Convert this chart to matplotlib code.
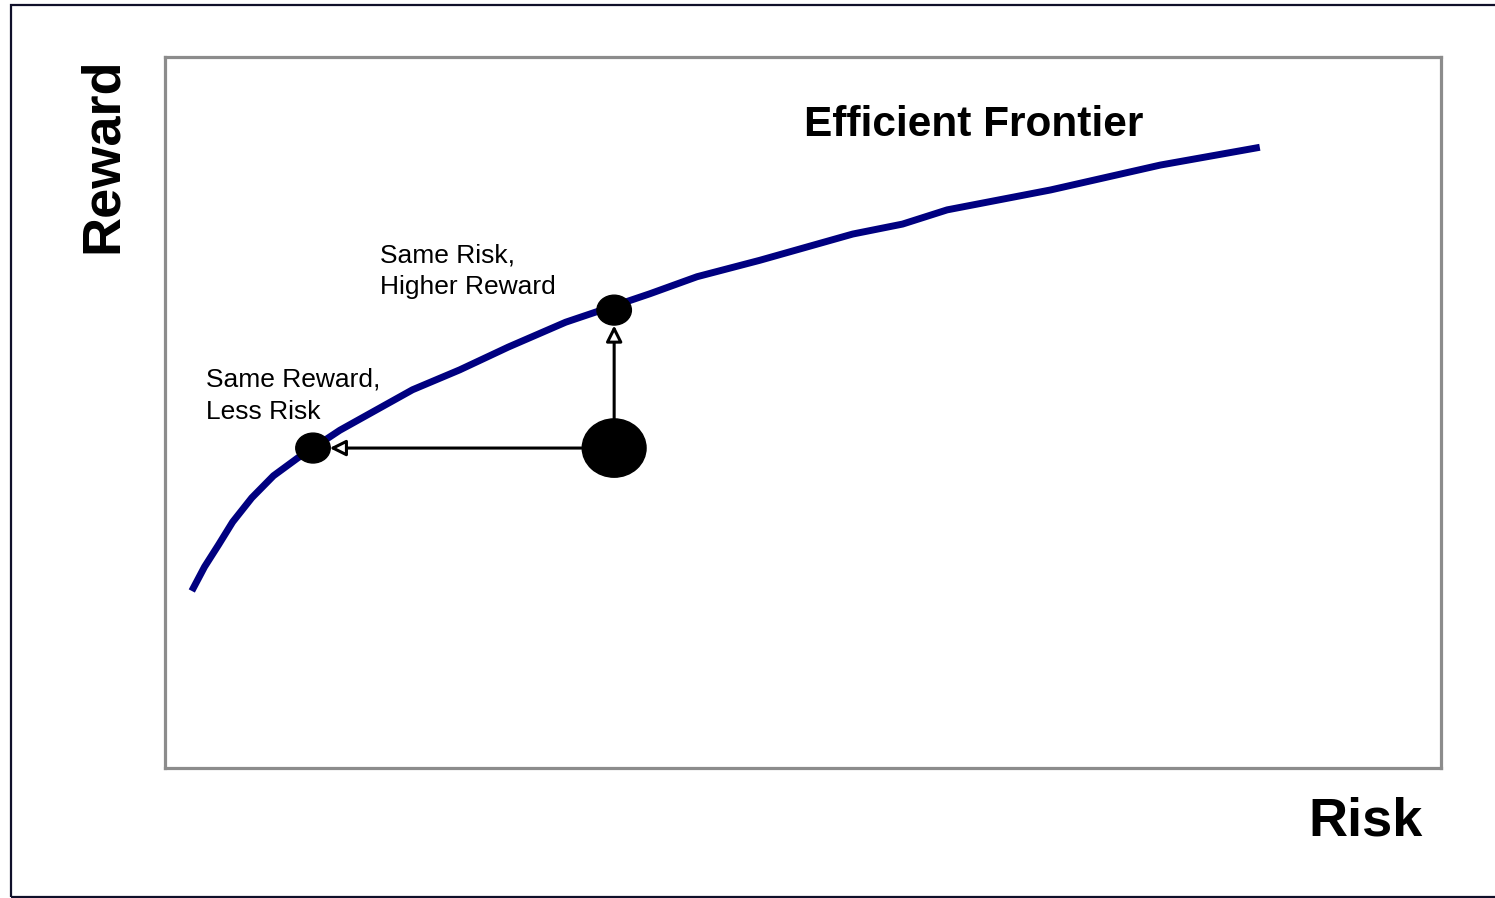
import matplotlib.pyplot as plt
from matplotlib.patches import Ellipse, Rectangle

plt.rcParams['font.family'] = ['Liberation Sans', 'DejaVu Sans']

# frontier polyline (risk, reward) on a 0-100 scale
frontier_risk = [2.1, 3.1, 4.2, 5.3, 6.8, 8.5, 10.4, 11.6, 13.7, 16.7, 19.4, 23.1,
                 26.9, 31.4, 35.2, 38.0, 41.7, 46.6, 53.9, 57.8, 61.3, 69.4, 78.0, 85.8]
frontier_reward = [24.9, 28.3, 31.4, 34.6, 38.0, 41.1, 43.6, 45.0, 47.5, 50.5, 53.2, 56.0,
                   59.2, 62.7, 65.0, 66.7, 69.1, 71.4, 75.1, 76.5, 78.5, 81.3, 84.8, 87.3]

# current portfolio and the two better choices on the frontier
portfolio = (35.2, 45.0)
less_risk = (11.6, 45.0)
higher_reward = (35.2, 64.4)

fig = plt.figure(figsize=(14.95, 8.98), dpi=100)
fig.patches.append(Rectangle((11 / 1495, 1 / 898), 1.0, 892 / 898, transform=fig.transFigure,
                             fill=False, ec='#10102a', lw=1.6))

ax = fig.add_axes([165 / 1495, 130 / 898, 1276 / 1495, 711 / 898])
ax.set_xlim(0, 100)
ax.set_ylim(0, 100)
ax.set_xticks([])
ax.set_yticks([])
for sp in ax.spines.values():
    sp.set_color('#8c8c8c')
    sp.set_linewidth(2.3)

ax.plot(frontier_risk, frontier_reward, color='#000080', lw=5, solid_capstyle='butt', zorder=2)

ax.add_patch(Ellipse(portfolio, 5.0, 8.2, color='black', zorder=4))
ax.add_patch(Ellipse(less_risk, 2.7, 4.2, color='black', zorder=4))
ax.add_patch(Ellipse(higher_reward, 2.7, 4.2, color='black', zorder=4))

arrow = dict(arrowstyle='-|>', lw=2.2, ec='black', fc='white', mutation_scale=24)
ax.annotate('', xy=less_risk, xytext=portfolio,
            arrowprops=dict(arrow, shrinkA=23, shrinkB=12), zorder=3)
ax.annotate('', xy=higher_reward, xytext=portfolio,
            arrowprops=dict(arrow, shrinkA=20, shrinkB=11), zorder=3)

ax.text(50.1, 90.5, 'Efficient Frontier', fontsize=30.5, fontweight='bold', va='center', ha='left')
ax.text(16.85, 73.8, 'Same Risk,\nHigher Reward', fontsize=19, va='top', ha='left',
        linespacing=1.42)
ax.text(3.2, 56.3, 'Same Reward,\nLess Risk', fontsize=19, va='top', ha='left',
        linespacing=1.42)

fig.text(103 / 1495, 1 - 155 / 898, 'Reward', fontsize=39, fontweight='bold',
         rotation=90, ha='center', va='center')
fig.text(1365 / 1495, 1 - 822 / 898, 'Risk', fontsize=39, fontweight='bold',
         ha='center', va='center')

fig.savefig('out.png', dpi=100)
